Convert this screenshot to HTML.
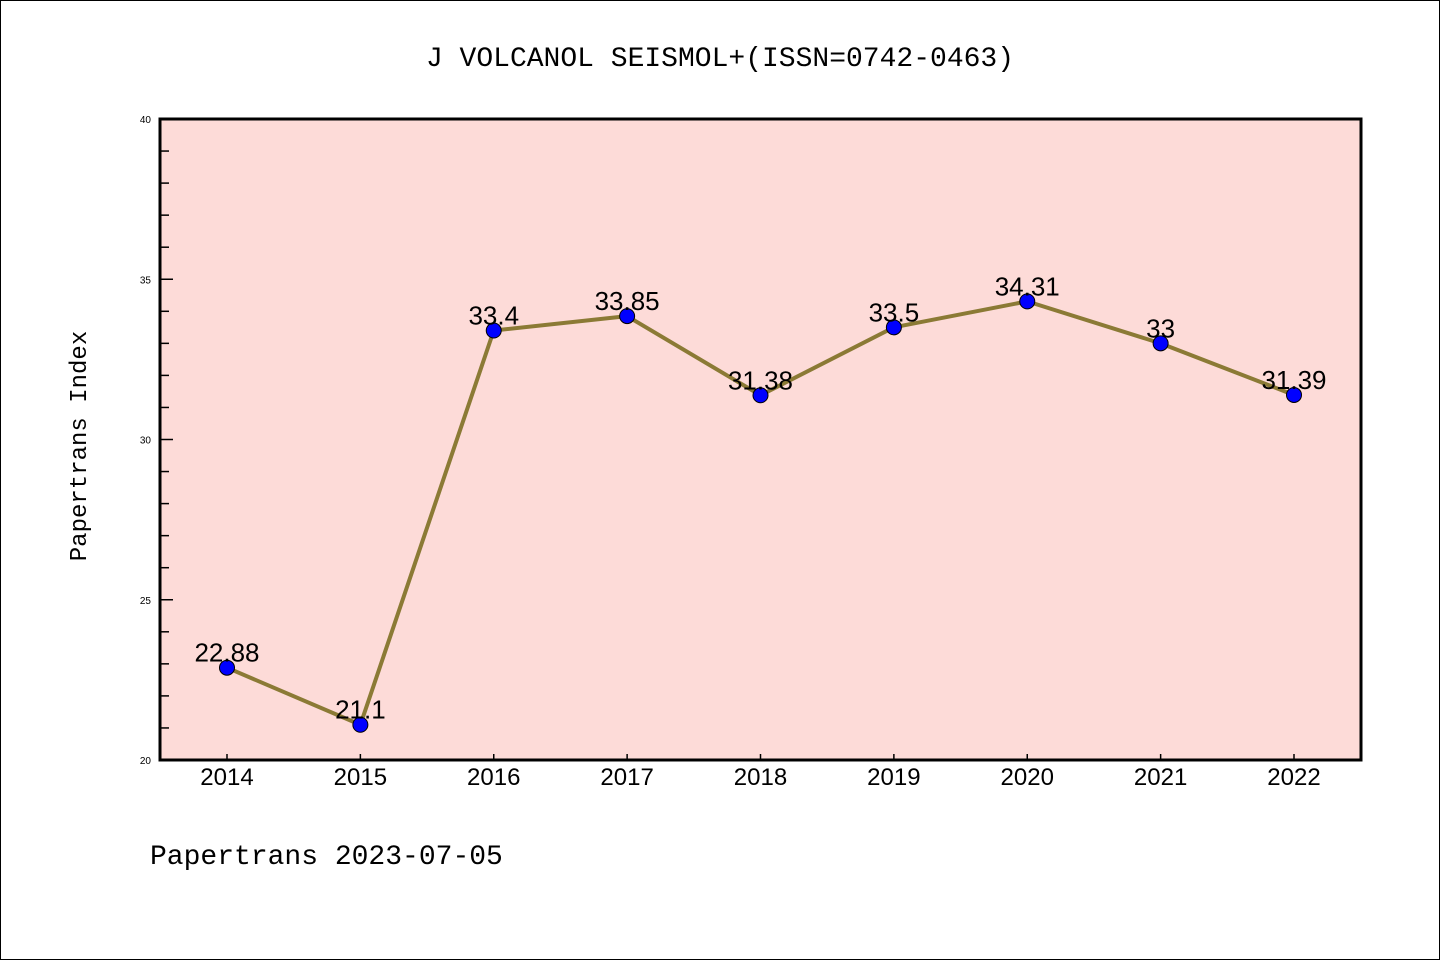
<!DOCTYPE html>
<html><head><meta charset="utf-8"><style>
body{margin:0;background:#fff}
svg{display:block;font-family:"Liberation Sans","DejaVu Sans",sans-serif}
</style></head><body>
<svg width="1440" height="960" viewBox="0 0 1440 960">
<rect x="0.5" y="0.5" width="1439" height="959" fill="#fff" stroke="#000"/>
<text x="720" y="66" text-anchor="middle" font-size="28" font-family="Liberation Mono, monospace">J VOLCANOL SEISMOL+(ISSN=0742-0463)</text>
<rect x="160" y="119" width="1201" height="641" fill="#fddbd8"/>
<g id="yaxis"></g>
<g id="xaxis"></g>
<g id="series"></g>
<rect x="160" y="119" width="1201" height="641" fill="none" stroke="#000" stroke-width="3"/>
<text x="86" y="446" transform="rotate(-90 86 446)" text-anchor="middle" font-size="24" font-family="Liberation Mono, monospace">Papertrans Index</text>
<text x="150" y="864" font-size="28" font-family="Liberation Mono, monospace">Papertrans 2023-07-05</text>
</svg>
<script>
const categories=["2014","2015","2016","2017","2018","2019","2020","2021","2022"];
const values=[22.88,21.1,33.4,33.85,31.38,33.5,34.31,33,31.39];
const valueLabels=["22.88","21.1","33.4","33.85","31.38","33.5","34.31","33","31.39"];
const yTicks=[20,25,30,35,40];
const NS="http://www.w3.org/2000/svg";
const X0=227,XSTEP=133.375,Y0=760,Y1=119,YMIN=20,YMAX=40;
function xs(i){return X0+i*XSTEP;}
function ys(v){return Y0-(v-YMIN)/(YMAX-YMIN)*(Y0-Y1);}
function mk(tag,attrs,parent){const e=document.createElementNS(NS,tag);for(const k in attrs)e.setAttribute(k,attrs[k]);parent.appendChild(e);return e;}
const ya=document.getElementById('yaxis'),xa=document.getElementById('xaxis'),sg=document.getElementById('series');
for(let v=YMIN+1;v<YMAX;v++){
  const major=yTicks.includes(v);
  const t=mk('line',{x1:160,x2:major?173:169,y1:ys(v),y2:ys(v),stroke:'#000','stroke-width':1.5},ya);
  
  
}
yTicks.forEach(v=>{
  const t=mk('text',{x:151,y:ys(v)+4,'text-anchor':'end','font-size':10},ya);
  t.textContent=v;
  
  
});
categories.forEach((c,i)=>{
  const tk=mk('line',{x1:xs(i),x2:xs(i),y1:760,y2:754,stroke:'#000','stroke-width':1.5},xa);
  
  
  const t=mk('text',{x:xs(i),y:785,'text-anchor':'middle','font-size':24},xa);
  t.textContent=c;
  
  
});
const pts=values.map((v,i)=>xs(i)+','+ys(v)).join(' ');
const pl=mk('polyline',{points:pts,fill:'none',stroke:'#8b7a35','stroke-width':4,'stroke-linejoin':'round'},sg);


values.forEach((v,i)=>{
  const c=mk('circle',{cx:xs(i),cy:ys(v),r:7.5,fill:'#0000ff',stroke:'#000','stroke-width':1},sg);
  
  
  const t=mk('text',{x:xs(i),y:ys(v)-6,'text-anchor':'middle','font-size':26},sg);
  t.textContent=valueLabels[i];
  
  
});
</script>
</body></html>
